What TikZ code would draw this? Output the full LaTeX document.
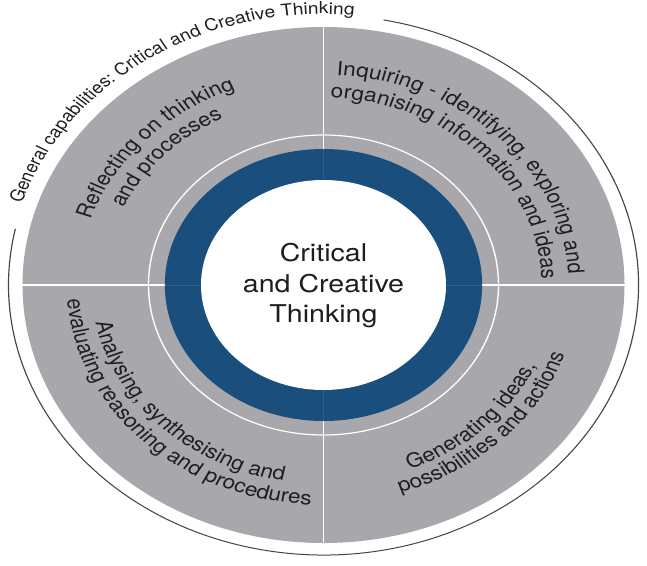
\documentclass[tikz,border=0pt]{standalone}
\usepackage{fontspec}
\setmainfont{TeX Gyre Heros}
\usetikzlibrary{decorations.text}
\definecolor{ringgray}{RGB}{168,167,171}
\definecolor{ringblue}{RGB}{26,78,124}
\definecolor{lineblue}{RGB}{36,98,152}
\definecolor{textdark}{RGB}{30,30,30}
\definecolor{outerline}{RGB}{70,70,70}
\newcommand\qfont{\fontsize{19.5}{22}\selectfont}
\newcommand\ofont{\fontsize{16.5}{19}\selectfont}
\tikzset{
  arctext/.style={decorate, decoration={text along path, text align=center, text color=textdark, text={#1}}},
  divider/.style={white, line width=1.2pt},
  bluedivider/.style={lineblue, line width=1pt},
}
\begin{document}
\begin{tikzpicture}[x=1pt,y=1pt]
\useasboundingbox (-323.5,-280) rectangle (323.5,285);
\begin{scope}[transform canvas={xscale=1.1667}]
  % discs and rings
  \fill[ringgray] (0,0) circle[radius=258];
  \draw[divider] (-258,0) -- (258,0);
  \draw[divider] (0,-258) -- (0,258);
  \draw[divider] (0,0) circle[radius=150];
  \fill[ringblue] (0,0) circle[radius=136];
  \draw[bluedivider] (-136,0) -- (136,0);
  \draw[bluedivider] (0,-136) -- (0,136);
  \fill[white] (0,0) circle[radius=105];
  % outer line
  \draw[outerline, line width=1pt] (79:270) arc[start angle=79, end angle=-192, radius=270];
  % outer text
  \path[arctext={|\ofont|General capabilities: Critical and Creative Thinking}]
    (171:271) arc[start angle=171, end angle=76, radius=271];
  % top-left
  \path[arctext={|\qfont|Reflecting on thinking}]
    (196.5:210) arc[start angle=196.5, end angle=76.5, radius=210];
  \path[arctext={|\qfont|and processes}]
    (196.5:188) arc[start angle=196.5, end angle=76.5, radius=188];
  % top-right
  \path[arctext={|\qfont|Inquiring - identifying, exploring and}]
    (105:210) arc[start angle=105, end angle=-15, radius=210];
  \path[arctext={|\qfont|organising information and ideas}]
    (105:187) arc[start angle=105, end angle=-15, radius=187];
  % bottom-left
  \path[arctext={|\qfont|Analysing, synthesising and}]
    (165.5:199) arc[start angle=165.5, end angle=285.5, radius=199];
  \path[arctext={|\qfont|evaluating reasoning and procedures}]
    (165.5:220) arc[start angle=165.5, end angle=285.5, radius=220];
  % bottom-right
  \path[arctext={|\qfont|Generating ideas,}]
    (254:199) arc[start angle=254, end angle=374, radius=199];
  \path[arctext={|\qfont|possibilities and actions}]
    (254.5:218) arc[start angle=254.5, end angle=374.5, radius=218];
  % centre
  \node[align=center, text=textdark, font=\fontsize{24.5}{30.5}\selectfont] (centre) at (0,-1) {Critical\\and Creative\\Thinking};
\end{scope}
\end{tikzpicture}
\end{document}
